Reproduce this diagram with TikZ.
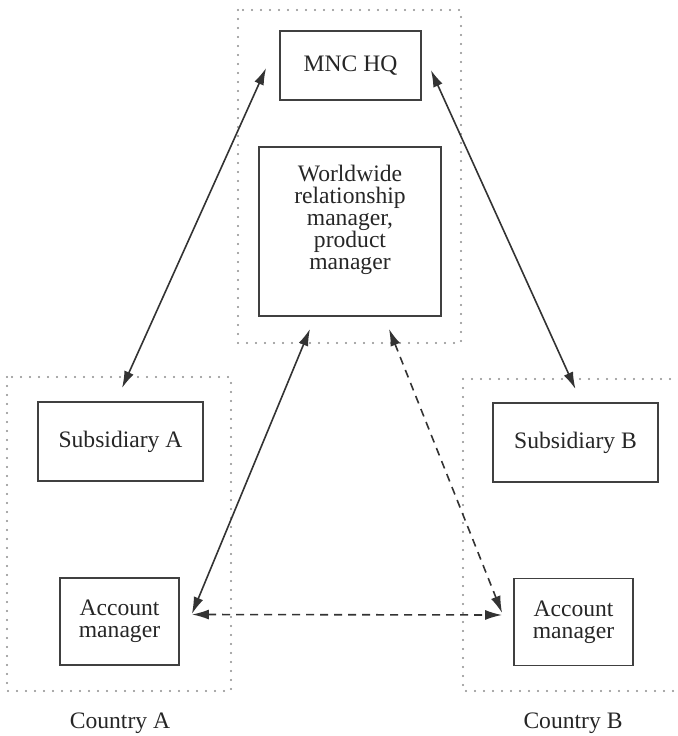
\documentclass[tikz,border=0pt]{standalone}
\usepackage{fontspec}
\setmainfont{Liberation Serif}
\usetikzlibrary{arrows.meta}

\begin{document}
\begin{tikzpicture}[x=0.5pt, y=0.5pt,
  box/.style={draw=black!75, line width=0.9pt, align=center, inner sep=0pt,
    text=black!85, font=\fontsize{11.8}{11}\selectfont},
  caption/.style={anchor=base, text=black!85, font=\fontsize{11.8}{11}\selectfont},
  frame/.style={draw=black!45, line width=1.1pt, line cap=round,
    dash pattern=on 0pt off 4.5pt},
  link/.style={draw=black!80, line width=0.8pt,
    {Latex[length=8.5pt,width=5pt]}-{Latex[length=8.5pt,width=5pt]}},
  loose/.style={link, dash pattern=on 4pt off 3pt}]
\useasboundingbox (0,0) rectangle (677,736);
\draw[frame] (238,726) rectangle (461,393);
\draw[frame] (7,359) rectangle (231,45);
\draw[frame] (463,357) rectangle (700,45);
\node[box, minimum width=70.5pt, minimum height=34.5pt] (hq) at (350.5,670.5) {MNC HQ};
\node[box, minimum width=91pt, minimum height=84.5pt] (ww) at (350,504.5)
  {Worldwide\\relationship\\manager,\\product\\manager\\[3pt]};
\node[box, minimum width=82.5pt, minimum height=39.5pt] (subA) at (120.5,294.5) {Subsidiary A};
\node[box, minimum width=59.5pt, minimum height=43.5pt] (acctA) at (119.5,114.5) {Account\\manager};
\node[box, minimum width=82.5pt, minimum height=39.5pt] (subB) at (575.5,293.5) {Subsidiary B};
\node[box, minimum width=59.5pt, minimum height=43.5pt] (acctB) at (573.5,114) {Account\\manager};
\node[caption] (ctryA) at (120,8) {Country A};
\node[caption] (ctryB) at (573,8) {Country B};
\draw[link] ([xshift=-6.5pt,yshift=-1.25pt]hq.west) -- ([xshift=0.75pt,yshift=6.5pt]subA.north);
\draw[link] ([xshift=4.5pt,yshift=-2.25pt]hq.east) -- ([yshift=6.5pt]subB.north);
\draw[link] ([xshift=-20pt,yshift=-6pt]ww.south) -- ([xshift=6pt,yshift=3.75pt]acctA.east);
\draw[loose] ([xshift=19.5pt,yshift=-6pt]ww.south) -- ([xshift=-5.5pt,yshift=4.5pt]acctB.west);
\draw[loose] ([xshift=6pt,yshift=3.5pt]acctA.east) -- ([xshift=-5.5pt,yshift=3.5pt]acctB.west);
\end{tikzpicture}
\end{document}
